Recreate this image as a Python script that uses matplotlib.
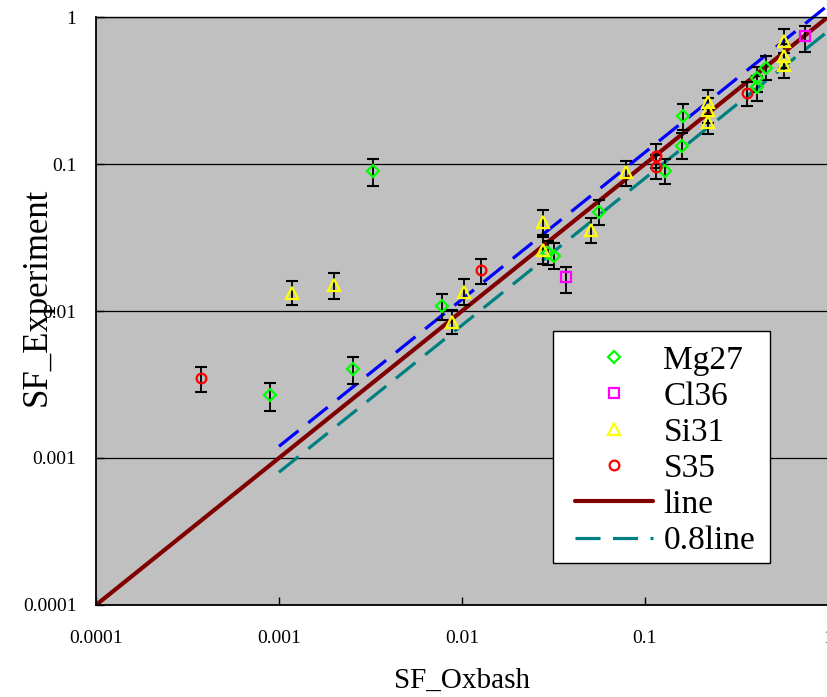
import numpy as np
import matplotlib
matplotlib.use('Agg')
import matplotlib.pyplot as plt
from matplotlib.patches import Rectangle

plt.rcParams['font.family'] = ['Liberation Serif', 'DejaVu Serif']
plt.rcParams['lines.scale_dashes'] = False

# spectroscopic factors: shell model (Oxbash) vs experiment
mg27_x = [0.00089, 0.00254, 0.00327, 0.00778, 0.0295, 0.0318, 0.0561, 0.1286, 0.1586, 0.162, 0.409, 0.409, 0.458]
mg27_y = [0.00268, 0.00403, 0.0896, 0.0108, 0.0248, 0.0237, 0.0474, 0.0896, 0.133, 0.212, 0.386, 0.334, 0.448]
mg27_hi = [0.00324, 0.00487, 0.108, 0.0131, 0.030, 0.029, 0.057, 0.108, 0.162, 0.255, 0.46, 0.40, 0.54]
mg27_lo = [0.00209, 0.0032, 0.0712, 0.00868, 0.0205, 0.0193, 0.0385, 0.073, 0.108, 0.170, 0.31, 0.27, 0.37]

cl36_x = [0.0369, 0.746]
cl36_y = [0.0171, 0.743]
cl36_hi = [0.0200, 0.873]
cl36_lo = [0.0133, 0.580]

si31_x = [0.00118, 0.00199, 0.00885, 0.0103, 0.0278, 0.0278, 0.0507, 0.0784, 0.222, 0.222, 0.222, 0.575, 0.575, 0.575]
si31_y = [0.0132, 0.0150, 0.00846, 0.0135, 0.0405, 0.026, 0.0356, 0.0879, 0.265, 0.233, 0.194, 0.690, 0.543, 0.471]
si31_hi = [0.0161, 0.0181, 0.0102, 0.0165, 0.049, 0.032, 0.0432, 0.105, 0.32, 0.28, 0.235, 0.83, 0.66, 0.57]
si31_lo = [0.0109, 0.0121, 0.0070, 0.0110, 0.0328, 0.021, 0.029, 0.0714, 0.215, 0.19, 0.16, 0.57, 0.45, 0.385]

s35_x = [0.000373, 0.01276, 0.1148, 0.1148, 0.359]
s35_y = [0.00352, 0.0189, 0.114, 0.0959, 0.306]
s35_hi = [0.00418, 0.0225, 0.136, 0.115, 0.36]
s35_lo = [0.00283, 0.0152, 0.094, 0.079, 0.25]

ticks = [0.0001, 0.001, 0.01, 0.1, 1]
tick_labels = ['0.0001', '0.001', '0.01', '0.1', '1']

fig = plt.figure(figsize=(8.27, 6.97), dpi=100)
ax = fig.add_axes([0.1161, 0.132, 0.885, 0.8436])
ax.set_facecolor('#C0C0C0')
ax.set_xscale('log')
ax.set_yscale('log')
ax.set_xlim(0.0001, 1)
ax.set_ylim(0.0001, 1)

ax.yaxis.grid(True, which='major', color='black', linewidth=0.9)
ax.set_axisbelow(True)

# reference lines
lx = np.array([0.0001, 1])
ax.plot(lx, lx, color='#800000', linewidth=3, solid_capstyle='round', label='line', zorder=2)
sx = np.array([0.001, 1])
ax.plot(sx, 1.2 * sx, color='#0000FF', linewidth=2.3, dashes=(18, 9), clip_on=False, zorder=2)
ax.plot(sx, 0.8 * sx, color='#008080', linewidth=2.3, dashes=(18, 9), label='0.8line', zorder=2)

series = [
    ('Mg27', mg27_x, mg27_y, mg27_lo, mg27_hi, 'D', '#00FF00', 6),
    ('Cl36', cl36_x, cl36_y, cl36_lo, cl36_hi, 's', '#FF00FF', 7),
    ('Si31', si31_x, si31_y, si31_lo, si31_hi, '^', '#FFFF00', 8),
    ('S35', s35_x, s35_y, s35_lo, s35_hi, 'o', '#FF0000', 7),
]
handles = []
for name, x, y, lo, hi, mk, col, ms in series:
    y = np.array(y)
    yerr = [y - np.array(lo), np.array(hi) - y]
    ax.errorbar(x, y, yerr=yerr, fmt='none', ecolor='black', elinewidth=1.3,
                capsize=4.5, capthick=1.5, zorder=3)
    h, = ax.plot(x, y, linestyle='none', marker=mk, markersize=ms, markerfacecolor='none',
                 markeredgecolor=col, markeredgewidth=1.6, label=name, zorder=4)
    handles.append(h)

lines = ax.get_lines()
handles += [lines[0], lines[2]]

ax.set_xticks(ticks)
ax.set_xticklabels(tick_labels)
ax.set_yticks(ticks)
ax.set_yticklabels(tick_labels)
ax.minorticks_off()
ax.tick_params(axis='x', direction='in', length=6, width=1, pad=18, labelsize=14, colors='black')
ax.tick_params(axis='y', direction='in', length=6, width=1, pad=14, labelsize=14, colors='black')
for side in ['left', 'bottom']:
    ax.spines[side].set_linewidth(1.3)
ax.spines['top'].set_linewidth(1)
ax.spines['right'].set_visible(False)

ax.set_xlabel('SF_Oxbash', fontsize=21)
ax.xaxis.set_label_coords(0.5, -0.107)
ax.set_ylabel('SF_Experiment', fontsize=25)
ax.yaxis.set_label_coords(-0.058, 0.524)

# legend box drawn separately so the side padding can be wider than the top
box = Rectangle((553 / 827, 1 - 563 / 697), 217 / 827, 232 / 697, transform=fig.transFigure,
                facecolor='white', edgecolor='black', linewidth=1, zorder=5)
fig.patches.append(box)

leg = fig.legend(handles=handles, loc='upper left', bbox_to_anchor=(575 / 827, 1 - 345 / 697),
                 fontsize=24, frameon=False, handlelength=2.35, handletextpad=0.3,
                 labelspacing=0.17, borderpad=0, borderaxespad=0)
leg.set_zorder(6)

fig.savefig('out.png', dpi=100)
